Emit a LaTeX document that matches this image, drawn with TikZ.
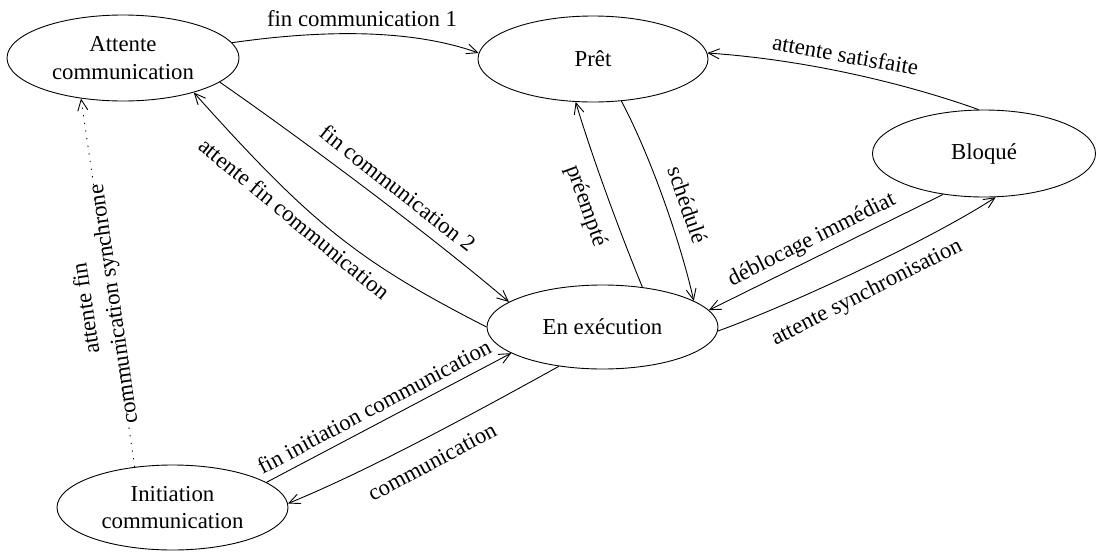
\documentclass[tikz,border=0pt]{standalone}
\usepackage{fontspec}
\setmainfont{Liberation Serif}
\usetikzlibrary{arrows.meta,shapes.geometric}
\begin{document}
\begin{tikzpicture}[x=1pt,y=-1pt,
  state/.style={draw, ellipse, inner sep=0pt, line width=0.9pt, align=center,
    font=\fontsize{22.8}{27.5}\selectfont},
  lbl/.style={inner sep=0pt, font=\fontsize{22.8}{27.5}\selectfont},
  edge/.style={draw, line width=0.9pt, -{Straight Barb[length=11pt,width=10pt]}},
  dots/.style={edge, dash pattern=on 1.2pt off 6.5pt}]
\useasboundingbox (0,0) rectangle (1096,552);
% states
\node[state, minimum width=232pt, minimum height=86pt] (att) at (123,58) {Attente\\communication};
\node[state, minimum width=230pt, minimum height=86pt] (pret) at (593,59) {Prêt};
\node[state, minimum width=223pt, minimum height=87pt] (blq) at (984,153.5) {Bloqué};
\node[state, minimum width=231pt, minimum height=84pt] (exe) at (602.5,327) {En exécution};
\node[state, minimum width=231pt, minimum height=85pt] (ini) at (172.5,507.5) {Initiation\\communication};
% connectors
\draw[edge] (att.8) .. controls (300,33) and (400,25) .. (pret.177);
\draw[edge] (att.346) .. controls (310,145) and (430,235) .. (exe.165);
\draw[edge] (exe.180) .. controls (356.5,260.5) and (310.75,223) .. (att.334);
\draw[dots] (ini.133) -- (att.224);
\draw[edge] (pret.304) .. controls (650,155) and (680,240) .. (exe.16);
\draw[edge] (exe.45) .. controls (615,220) and (590,150) .. (pret.248);
\draw[edge] (blq.97) .. controls (910,85) and (810,60) .. (pret.3);
\draw[edge] (blq.225) -- (exe.9);
\draw[edge] (exe.358) .. controls (790,305) and (930,240) .. (blq.285);
\draw[edge] (ini.15) -- (exe.196);
\draw[edge] (exe.222) .. controls (480,410) and (370,470) .. (ini.2);
% labels
\node[lbl] (l1) at (362,19) {fin communication 1};
\node[lbl, rotate=-38] (l2) at (398,188) {fin communication 2};
\node[lbl, rotate=-39.5] (l3) at (294.5,218.5) {attente fin communication};
\node[lbl, rotate=98.3, align=center] (l4) at (101,306) {attente fin\\communication synchrone};
\node[lbl, rotate=-71] (l5) at (688,205) {schédulé};
\node[lbl, rotate=-70] (l6) at (586,206) {préempté};
\node[lbl, rotate=-10] (l7) at (845.5,55) {attente satisfaite};
\node[lbl, rotate=26.6] (l8) at (812,240) {déblocage immédiat};
\node[lbl, rotate=27] (l9) at (867,293) {attente synchronisation};
\node[lbl, rotate=28] (l10) at (374,406.5) {fin initiation communication};
\node[lbl, rotate=28] (l11) at (432,462) {communication};
\end{tikzpicture}
\end{document}
